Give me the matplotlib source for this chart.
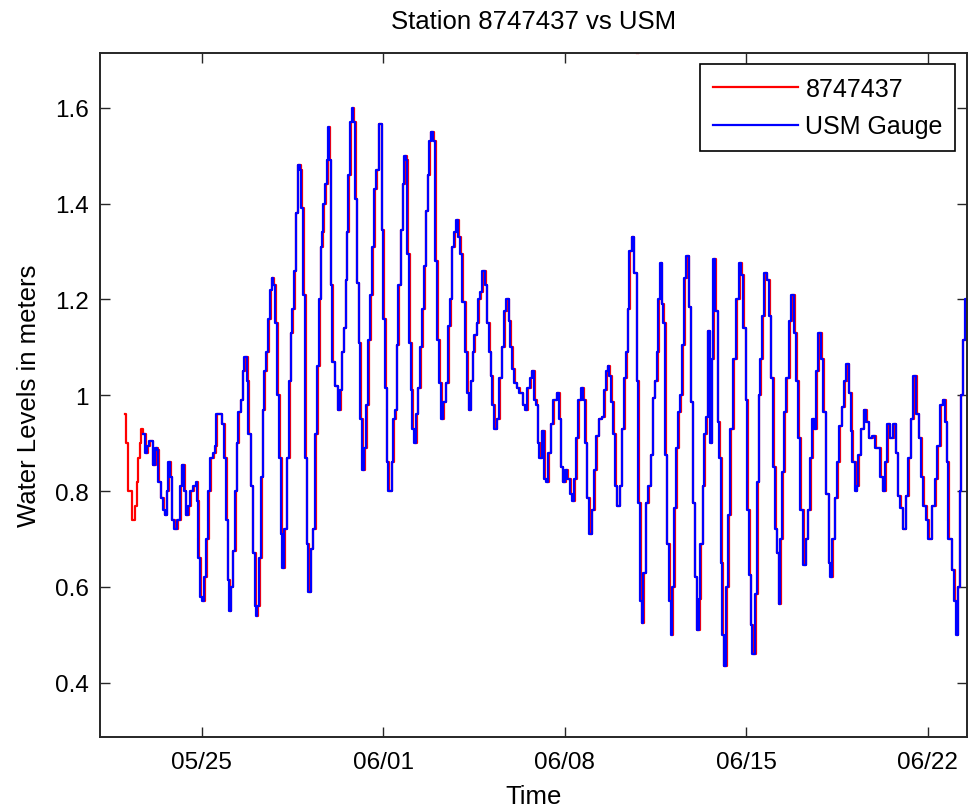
from datetime import datetime
import numpy as np
import matplotlib
matplotlib.use("Agg")
import matplotlib.pyplot as plt
import matplotlib.dates as mdates

plt.rcParams["font.family"] = ["Liberation Sans", "DejaVu Sans"]

# reference day: 05/25 at midnight, times below are days after it
BASE = datetime(2013, 5, 25)

# USM gauge readings (days after 05/25, meters)
usm_days = [
    -2.28, -2.19, -2.10, -2.02, -1.89, -1.80, -1.71, -1.67, -1.58, -1.48,
    -1.42, -1.35, -1.29, -1.22, -1.16, -1.07, -0.94, -0.84, -0.77, -0.68,
    -0.61, -0.52, -0.45, -0.32, -0.22, -0.17, -0.13, -0.07, 0.01, 0.09,
    0.17, 0.26, 0.32, 0.45, 0.51, 0.55, 0.71, 0.77, 0.86, 0.94,
    1.00, 1.05, 1.12, 1.19, 1.28, 1.35, 1.41, 1.50, 1.58, 1.63,
    1.68, 1.76,
    1.80, 1.89, 1.97, 2.06, 2.09, 2.15, 2.22, 2.29, 2.35, 2.40,
    2.48, 2.56, 2.63, 2.70, 2.76, 2.83, 2.92, 2.99, 3.06, 3.11,
    3.19, 3.28, 3.37, 3.43, 3.50, 3.56, 3.62, 3.70, 3.79, 3.84,
    3.92, 3.98, 4.05, 4.11, 4.20, 4.28, 4.37, 4.46, 4.52, 4.59,
    4.64, 4.69, 4.77, 4.84, 4.87, 4.92, 4.97, 5.04, 5.13, 5.24,
    5.33, 5.40, 5.48, 5.55, 5.59, 5.65, 5.72, 5.80, 5.85, 5.91,
    5.98, 6.05, 6.12, 6.18, 6.26, 6.34, 6.41, 6.49, 6.57, 6.64,
    6.72, 6.82,
    6.94, 7.00, 7.07, 7.13, 7.20, 7.33, 7.39, 7.45, 7.52, 7.58,
    7.67, 7.75, 7.80, 7.88, 7.93, 8.01, 8.07, 8.12, 8.20, 8.26,
    8.33, 8.42, 8.51, 8.57, 8.64, 8.71, 8.78, 8.83, 8.93, 9.00,
    9.09, 9.15, 9.23, 9.32, 9.41, 9.51, 9.58, 9.64, 9.73, 9.81,
    9.90, 9.96, 10.05, 10.15, 10.24, 10.30, 10.37, 10.45, 10.51, 10.60,
    10.67, 10.73, 10.82, 10.93, 10.99, 11.08, 11.14, 11.21, 11.29, 11.38,
    11.48, 11.57, 11.66, 11.74, 11.83, 11.90, 11.98, 12.06, 12.15, 12.25,
    12.38, 12.47, 12.56, 12.66,
    12.73, 12.82, 12.89, 12.96, 13.02, 13.11, 13.20, 13.28, 13.37, 13.46,
    13.54, 13.69, 13.79, 13.84, 13.92, 14.01, 14.10, 14.20, 14.29, 14.37,
    14.43, 14.52, 14.62, 14.72, 14.78, 14.85, 14.94, 15.04, 15.13, 15.21,
    15.31, 15.42, 15.51, 15.59, 15.66, 15.72, 15.80, 15.87, 15.94, 16.00,
    16.11, 16.20, 16.29, 16.36, 16.43, 16.49, 16.58, 16.65, 16.77, 16.84,
    16.90, 16.97, 17.03, 17.12, 17.22, 17.31, 17.39, 17.47, 17.55, 17.61,
    17.67, 17.74, 17.80, 17.87, 17.93, 18.02, 18.10, 18.15, 18.21, 18.29,
    18.38, 18.45, 18.52, 18.60, 18.68, 18.78, 18.86, 18.93, 19.01, 19.09,
    19.17, 19.23, 19.31, 19.38, 19.45, 19.51, 19.58, 19.60, 19.67, 19.73,
    19.81, 19.89, 19.96, 20.03, 20.08, 20.13, 20.21, 20.31, 20.37, 20.48,
    20.61, 20.72, 20.80, 20.89, 20.97, 21.04, 21.11, 21.17, 21.22, 21.34,
    21.43, 21.48, 21.53, 21.60, 21.69, 21.79, 21.87, 21.94, 22.03, 22.11,
    22.17, 22.25, 22.30, 22.38, 22.46, 22.53, 22.64, 22.73, 22.84, 22.92,
    23.00, 23.07, 23.18,
    23.29, 23.37, 23.46, 23.55, 23.61, 23.68, 23.78, 23.88, 23.95, 24.06,
    24.17, 24.23, 24.31, 24.40, 24.49, 24.58, 24.67, 24.77, 24.85, 24.95,
    25.03, 25.09, 25.20, 25.26, 25.32, 25.41, 25.52, 25.61, 25.71, 25.84,
    25.97, 26.16, 26.26, 26.35, 26.44, 26.52, 26.67, 26.76, 26.84, 26.93,
    27.03, 27.14, 27.25, 27.34, 27.44, 27.55, 27.64, 27.73, 27.83, 27.94,
    28.02, 28.15, 28.28, 28.37, 28.47, 28.57, 28.66, 28.72, 28.79, 28.92,
    29.01, 29.10, 29.15, 29.22, 29.27, 29.34, 29.44, 29.53,
]
usm_level = [
    0.92, 0.88, 0.895, 0.905, 0.855, 0.89, 0.885, 0.82, 0.785, 0.76,
    0.75, 0.80, 0.86, 0.83, 0.74, 0.72, 0.74, 0.81, 0.855, 0.80,
    0.75, 0.77, 0.80, 0.81, 0.82, 0.78, 0.66, 0.58, 0.57, 0.62,
    0.70, 0.80, 0.87, 0.88, 0.895, 0.96, 0.96, 0.94, 0.87, 0.74,
    0.615, 0.55, 0.60, 0.675, 0.80, 0.90, 0.965, 0.99, 1.05, 1.08,
    1.08, 1.03,
    0.92, 0.81, 0.67, 0.56, 0.54, 0.56, 0.66, 0.83, 0.97, 1.05,
    1.09, 1.16, 1.22, 1.245, 1.23, 1.15, 1.00, 0.87, 0.71, 0.64,
    0.72, 0.87, 1.03, 1.13, 1.18, 1.26, 1.38, 1.48, 1.47, 1.39,
    1.21, 0.87, 0.69, 0.59, 0.68, 0.72, 0.92, 1.06, 1.20, 1.31,
    1.34, 1.40, 1.44, 1.49, 1.56, 1.49, 1.23, 1.07, 1.02, 0.97,
    1.01, 1.09, 1.14, 1.24, 1.34, 1.46, 1.57, 1.60, 1.57, 1.41,
    1.235, 1.11, 0.95, 0.845, 0.89, 0.98, 1.115, 1.21, 1.31, 1.43,
    1.47, 1.565,
    1.345, 1.16, 1.015, 0.86, 0.80, 0.86, 0.95, 0.97, 1.105, 1.23,
    1.345, 1.44, 1.50, 1.49, 1.295, 1.11, 1.01, 0.93, 0.90, 0.96,
    1.015, 1.10, 1.18, 1.27, 1.385, 1.46, 1.53, 1.55, 1.53, 1.28,
    1.115, 1.025, 0.95, 0.985, 1.025, 1.145, 1.20, 1.31, 1.34, 1.365,
    1.33, 1.295, 1.195, 1.09, 1.005, 0.97, 1.03, 1.09, 1.125, 1.15,
    1.20, 1.215, 1.26, 1.23, 1.15, 1.09, 1.04, 0.98, 0.93, 0.95,
    1.035, 1.10, 1.175, 1.20, 1.155, 1.10, 1.055, 1.025, 1.015, 1.005,
    0.98, 0.97, 1.015, 1.035,
    1.05, 0.99, 0.98, 0.90, 0.87, 0.925, 0.825, 0.82, 0.88, 0.94,
    0.99, 1.005, 0.95, 0.85, 0.82, 0.845, 0.825, 0.795, 0.78, 0.825,
    0.91, 0.99, 1.015, 0.99, 0.90, 0.785, 0.71, 0.76, 0.845, 0.915,
    0.95, 0.955, 1.01, 1.05, 1.06, 1.04, 0.985, 0.92, 0.81, 0.77,
    0.81, 0.93, 1.035, 1.09, 1.18, 1.30, 1.33, 1.255, 1.03, 0.775,
    0.57, 0.525, 0.63, 0.775, 0.81, 0.875, 0.995, 1.03, 1.09, 1.20,
    1.275, 1.19, 1.15, 0.875, 0.69, 0.57, 0.50, 0.60, 0.765, 0.89,
    0.965, 1.00, 1.105, 1.245, 1.29, 1.185, 0.985, 0.775, 0.62, 0.51,
    0.575, 0.69, 0.81, 0.92, 0.955, 1.135, 1.06, 0.90, 1.075, 1.285,
    1.175, 0.945, 0.87, 0.65, 0.50, 0.435, 0.60, 0.75, 0.93, 1.075,
    1.20, 1.275, 1.25, 1.14, 0.99, 0.76, 0.625, 0.52, 0.46, 0.585,
    0.82, 1.00, 1.075, 1.165, 1.255, 1.24, 1.165, 1.035, 0.85, 0.72,
    0.67, 0.565, 0.70, 0.84, 0.965, 1.035, 1.155, 1.21, 1.13, 1.03,
    0.91, 0.76, 0.645,
    0.70, 0.76, 0.87, 0.95, 0.93, 1.05, 1.13, 1.075, 0.965, 0.795,
    0.65, 0.62, 0.70, 0.785, 0.86, 0.935, 0.975, 1.03, 1.065, 1.005,
    0.925, 0.86, 0.80, 0.81, 0.875, 0.93, 0.97, 0.945, 0.91, 0.915,
    0.89, 0.83, 0.80, 0.86, 0.94, 0.91, 0.94, 0.88, 0.79, 0.765,
    0.72, 0.79, 0.87, 0.95, 1.04, 0.96, 0.91, 0.83, 0.77, 0.74,
    0.70, 0.77, 0.825, 0.895, 0.98, 0.99, 0.945, 0.86, 0.70, 0.635,
    0.57, 0.50, 0.60, 0.80, 1.00, 1.115, 1.20, 1.21,
]

# station 8747437: starts earlier than the USM gauge, then follows it closely
noaa_head_days = [-2.96, -2.92, -2.83, -2.70, -2.57, -2.51, -2.44, -2.38, -2.32]
noaa_head_level = [0.96, 0.90, 0.80, 0.74, 0.77, 0.82, 0.87, 0.90, 0.93]
NOAA_LAG = 0.025  # red trace sits a hair later than the blue one
noaa_spike_days = [16.77, 16.81]
noaa_spike_level = [1.713, 1.713]

tick_labels = ["05/25", "06/01", "06/08", "06/15", "06/22"]
y_ticks = [0.4, 0.6, 0.8, 1.0, 1.2, 1.4, 1.6]
y_tick_labels = ["0.4", "0.6", "0.8", "1", "1.2", "1.4", "1.6"]

assert len(usm_days) == len(usm_level)


def to_dates(days):
    base = mdates.date2num(BASE)
    return base + np.asarray(days, dtype=float)


usm_t = to_dates(usm_days)
noaa_t = np.concatenate([to_dates(noaa_head_days), usm_t + NOAA_LAG])
noaa_v = np.concatenate([noaa_head_level, usm_level])

fig = plt.figure(figsize=(9.68, 8.12), dpi=100)
ax = fig.add_axes([0.1033, 0.0911, 0.8952, 0.8424])

ax.plot(noaa_t, noaa_v, color=(1, 0, 0), lw=1.6, drawstyle="steps-post", label="8747437")
ax.plot(to_dates(noaa_spike_days), noaa_spike_level, color=(1, 0, 0), lw=1.6)
ax.plot(usm_t, usm_level, color=(0, 0, 1), lw=1.6, drawstyle="steps-post", label="USM Gauge")

ax.set_xlim(to_dates([-3.92])[0], to_dates([29.49])[0])
ax.set_ylim(0.287, 1.714)

tick_pos = [mdates.date2num(datetime.strptime("2013/" + s, "%Y/%m/%d")) for s in tick_labels]
ax.set_xticks(tick_pos)
ax.set_xticklabels(tick_labels)
ax.set_yticks(y_ticks)
ax.set_yticklabels(y_tick_labels)

ax.tick_params(direction="in", top=True, right=True, length=7, width=1.0,
               labelsize=17.5, colors="#262626", labelcolor="black")
ax.tick_params(axis="x", pad=10)
ax.tick_params(axis="y", pad=8)
for sp in ax.spines.values():
    sp.set_linewidth(1.4)
    sp.set_color("#262626")

ax.set_title("Station 8747437 vs USM", fontsize=18.5, pad=18)
ax.set_xlabel("Time", fontsize=18.5, labelpad=8)
ax.set_ylabel("Water Levels in meters", fontsize=18.5, labelpad=10)

leg = ax.legend(loc="upper right", fontsize=18, fancybox=False, framealpha=1,
                edgecolor="black", handlelength=3.4, handletextpad=0.3,
                labelspacing=0.55, borderaxespad=0.45, borderpad=0.5)
leg.get_frame().set_linewidth(1.2)

fig.savefig("out.png", dpi=100)
